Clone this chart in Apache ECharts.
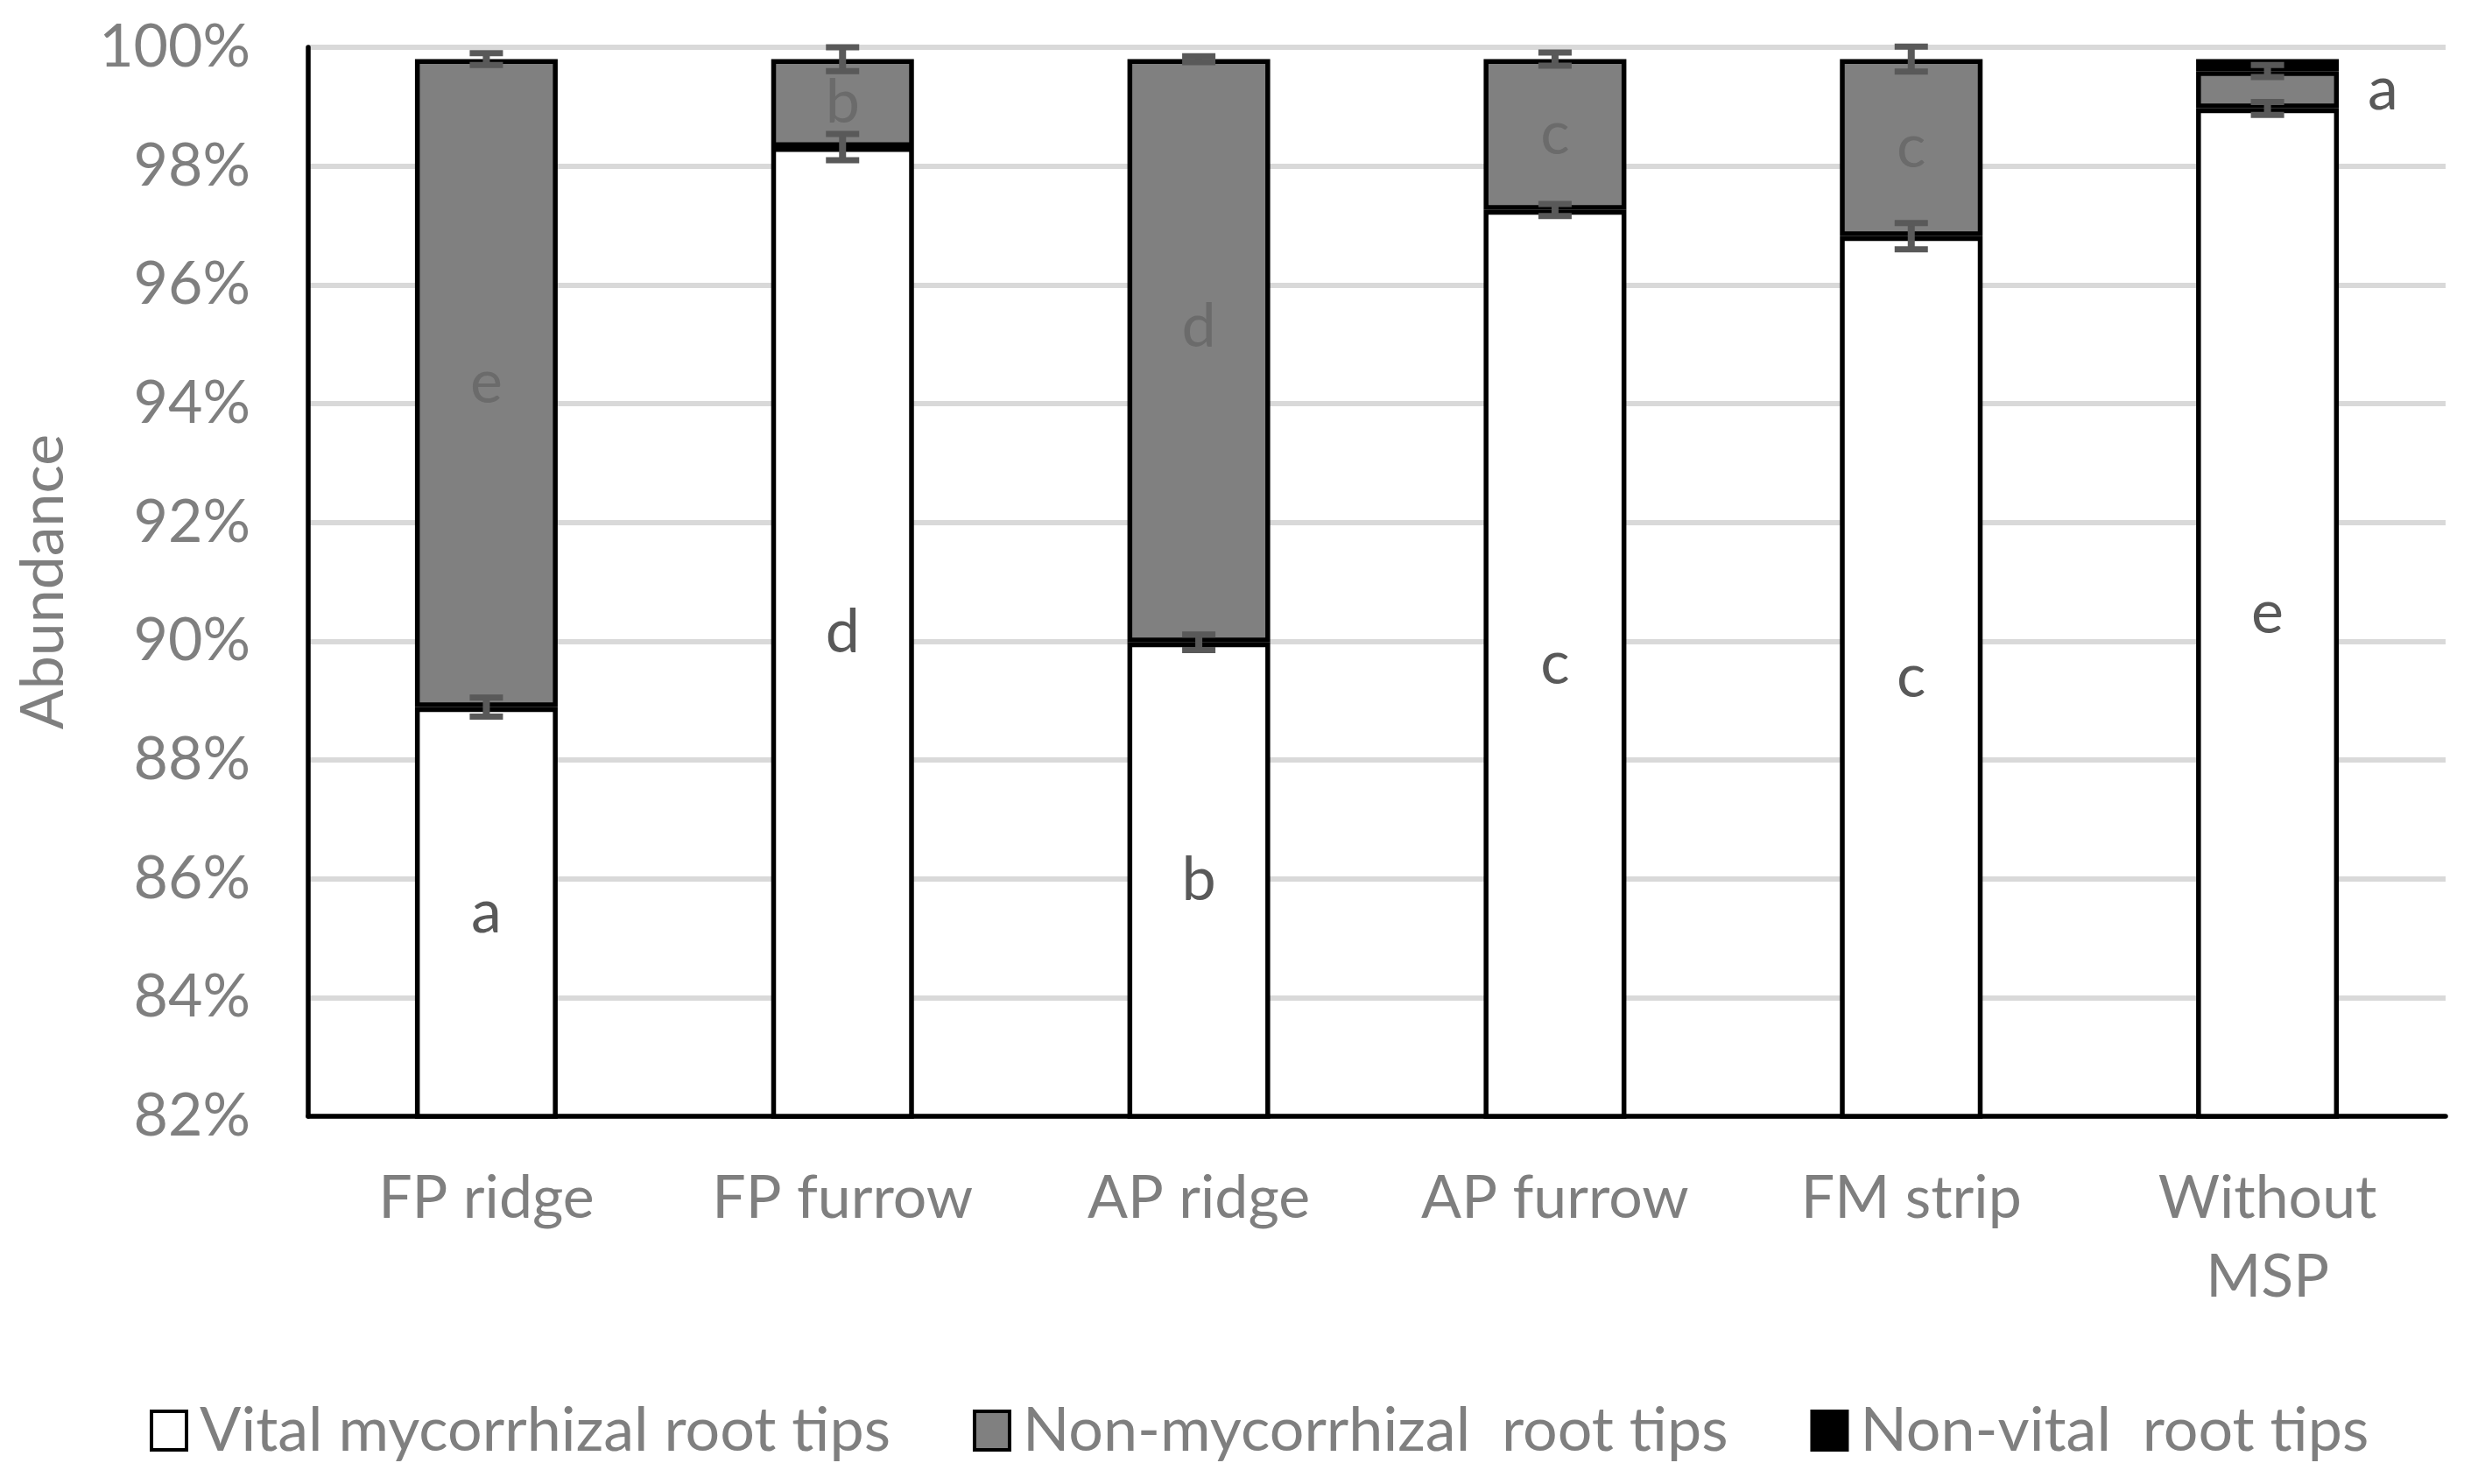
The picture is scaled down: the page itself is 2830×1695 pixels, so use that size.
<!DOCTYPE html>
<html><head><meta charset="utf-8">
<script src="https://cdn.jsdelivr.net/npm/echarts@6/dist/echarts.min.js"></script>
<style>html,body{margin:0;padding:0;background:#fff}#c{width:2830px;height:1695px}</style>
</head><body><div id="c"></div>
<script>
const categories = ['FP ridge', 'FP furrow', 'AP ridge', 'AP furrow', 'FM strip', 'Without\nMSP'];
const vital = [88.89, 98.32, 89.98, 97.26, 96.82, 98.97];
const nonMyc = [10.91, 1.48, 9.82, 2.54, 2.98, 0.63];
const nonVital = [null, null, null, null, null, 0.20];
const vitalErr = [0.16, 0.22, 0.13, 0.10, 0.22, 0.11];
const nonMycErr = [0.10, 0.20, 0.05, 0.11, 0.21, 0.10];
const vitalLetters = ['a', 'd', 'b', 'c', 'c', 'e'];
const nonMycLetters = ['e', 'b', 'd', 'c', 'c', 'a'];
const yMin = 82, yMax = 100, yStep = 2;

const FONT = 'Lato';
const GRAY_TXT = '#7f7f7f';

function errData(base, err, add) {
  return base.map((v, i) => [i, v + (add ? add[i] : 0), err[i]]);
}
function renderErr(params, api) {
  const x = api.value(0), y = api.value(1), e = api.value(2);
  const top = api.coord([x, y + e]);
  const bot = api.coord([x, y - e]);
  const hw = 19;
  const cap = { stroke: '#595959', lineWidth: 7 };
  const stem = { stroke: '#595959', lineWidth: 8 };
  return {
    type: 'group',
    children: [
      { type: 'line', shape: { x1: top[0], y1: top[1], x2: bot[0], y2: bot[1] }, style: stem },
      { type: 'line', shape: { x1: top[0] - hw, y1: top[1], x2: top[0] + hw, y2: top[1] }, style: cap },
      { type: 'line', shape: { x1: bot[0] - hw, y1: bot[1], x2: bot[0] + hw, y2: bot[1] }, style: cap }
    ]
  };
}

const nonMycData = nonMyc.map((v, i) => {
  if (i === 5) {
    return { value: v, label: { position: 'right', distance: 33, color: '#595959' } };
  }
  if (i === 2) {
    return { value: v, label: { offset: [0, -27] } };
  }
  return v;
});

const chart = echarts.init(document.getElementById('c'), null, { renderer: 'canvas' });
chart.setOption({
  animation: false,
  backgroundColor: '#ffffff',
  textStyle: { fontFamily: FONT },
  grid: { left: 352, right: 37, top: 54, bottom: 420, containLabel: false, outerBoundsMode: 'none' },
  legend: {
    left: 166, top: 1594,
    itemWidth: 40, itemHeight: 44, itemGap: 94,
    icon: 'rect',
    textStyle: { fontSize: 70, color: GRAY_TXT, fontFamily: FONT, padding: [0, 0, 0, 10] },
    itemStyle: { borderWidth: 4, borderColor: '#000' },
    data: ['Vital mycorrhizal root tips', 'Non-mycorrhizal  root tips', 'Non-vital  root tips']
  },
  xAxis: {
    type: 'category',
    data: categories,
    axisLine: { show: true, lineStyle: { color: '#000', width: 5.5 } },
    axisTick: { show: false },
    axisLabel: { color: GRAY_TXT, fontSize: 68, fontFamily: FONT, margin: 49, lineHeight: 90, interval: 0 },
    splitLine: { show: false }
  },
  yAxis: {
    type: 'value',
    min: yMin, max: yMax, interval: yStep,
    name: 'Abundance',
    nameLocation: 'middle',
    nameGap: 268,
    nameTextStyle: { fontSize: 68, color: GRAY_TXT, fontFamily: FONT },
    axisLine: { show: true, lineStyle: { color: '#000', width: 5.5 } },
    axisTick: { show: false },
    axisLabel: { color: GRAY_TXT, fontSize: 68, fontFamily: FONT, margin: 66, formatter: '{value}%' },
    splitLine: { show: true, lineStyle: { color: '#d9d9d9', width: 6 } }
  },
  series: [
    {
      name: 'Vital mycorrhizal root tips', type: 'bar', stack: 'total', barWidth: 163,
      data: vital,
      itemStyle: { color: '#ffffff', borderColor: '#000', borderWidth: 5.5 },
      label: { show: true, position: 'inside', fontSize: 70, fontFamily: FONT, color: '#595959',
        formatter: p => vitalLetters[p.dataIndex] }
    },
    {
      name: 'Non-mycorrhizal  root tips', type: 'bar', stack: 'total', barWidth: 163,
      data: nonMycData,
      itemStyle: { color: '#808080', borderColor: '#000', borderWidth: 5.5 },
      label: { show: true, position: 'inside', fontSize: 70, fontFamily: FONT, color: '#6b6b6b',
        formatter: p => nonMycLetters[p.dataIndex] }
    },
    {
      name: 'Non-vital  root tips', type: 'bar', stack: 'total', barWidth: 163,
      data: nonVital,
      itemStyle: { color: '#000000', borderColor: '#000', borderWidth: 5.5 },
      label: { show: false }
    },
    {
      type: 'custom', renderItem: renderErr, z: 10,
      data: errData(vital, vitalErr), encode: { x: 0, y: 1 }, silent: true
    },
    {
      type: 'custom', renderItem: renderErr, z: 10,
      data: errData(vital, nonMycErr, nonMyc), encode: { x: 0, y: 1 }, silent: true
    }
  ]
});
</script></body></html>
